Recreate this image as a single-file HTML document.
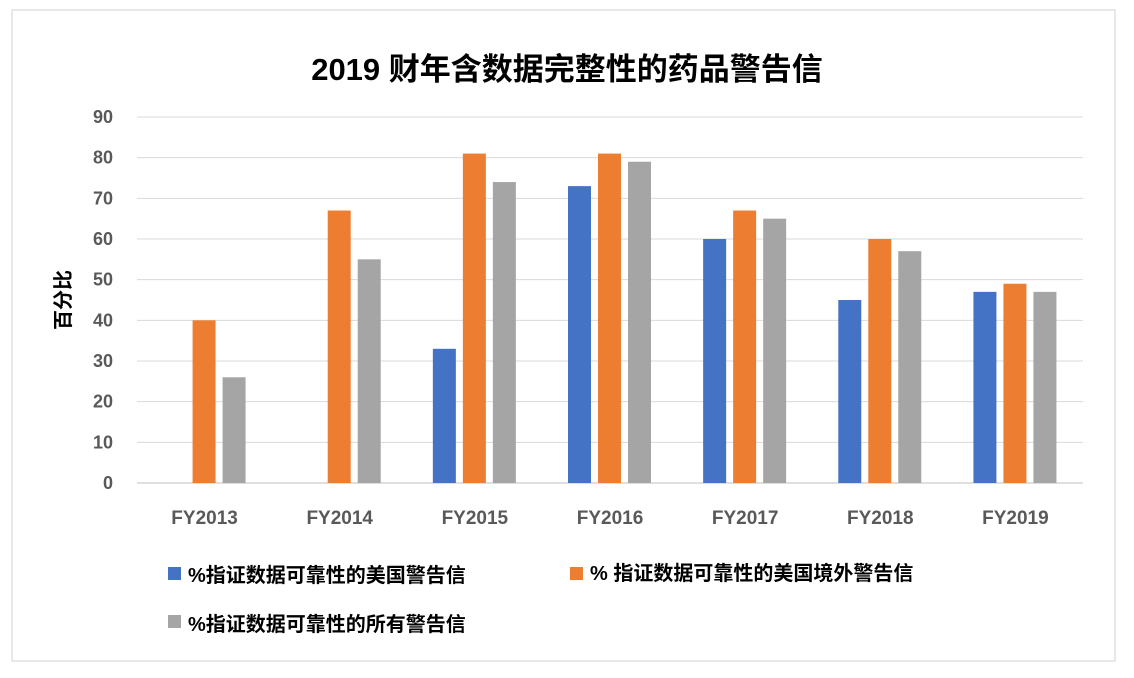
<!DOCTYPE html>
<html><head><meta charset="utf-8"><style>
body{margin:0;background:#fff;width:1134px;height:673px;overflow:hidden;font-family:"Liberation Sans","Noto Sans CJK SC",sans-serif}
</style></head><body>
<svg width="1134" height="673" xmlns="http://www.w3.org/2000/svg">
<rect x="12" y="10" width="1103" height="651" fill="#fff" stroke="#d0d0d0"/>
<text x="567" y="80" text-anchor="middle" font-size="31" font-weight="bold" font-family="Liberation Sans, Noto Sans CJK SC, sans-serif">2019 财年含数据完整性的药品警告信</text>
<text transform="translate(70,300) rotate(-90)" text-anchor="middle" font-size="20" font-weight="bold" font-family="Liberation Sans, Noto Sans CJK SC, sans-serif">百分比</text>
<g id="grid"></g><g id="bars"></g><g id="labels"></g>
<g font-size="20" font-weight="bold" font-family="Liberation Sans, Noto Sans CJK SC, sans-serif">
<rect x="168" y="567" width="13" height="13" fill="#4472C4"/>
<text x="188" y="582">%指证数据可靠性的美国警告信</text>
<rect x="570" y="567" width="13" height="13" fill="#ED7D31"/>
<text x="590" y="580">% 指证数据可靠性的美国境外警告信</text>
<rect x="168" y="615" width="13" height="13" fill="#A5A5A5"/>
<text x="188" y="631">%指证数据可靠性的所有警告信</text>
</g>
</svg>
<script>
const categories=["FY2013","FY2014","FY2015","FY2016","FY2017","FY2018","FY2019"];
const usValues=[null,null,33,73,60,45,47];
const foreignValues=[40,67,81,81,67,60,49];
const allValues=[26,55,74,79,65,57,47];
const yTicks=[0,10,20,30,40,50,60,70,80,90];
const NS="http://www.w3.org/2000/svg";
const x0=137,x1=1083,y0=483,yTop=117,yMax=90;
const band=(x1-x0)/categories.length;
const yS=v=>y0-(v/yMax)*(y0-yTop);
const xC=i=>x0+band*(i+0.5);
function mk(t,a,p){const e=document.createElementNS(NS,t);for(const k in a)e.setAttribute(k,a[k]);p.appendChild(e);return e;}
const grid=document.getElementById('grid'),bars=document.getElementById('bars'),labels=document.getElementById('labels');
yTicks.forEach(v=>{
 const l=mk('line',{x1:x0,x2:x1,y1:yS(v),y2:yS(v),stroke:v===0?'#bfbfbf':'#d9d9d9','stroke-width':1},grid);
 
 
 const t=mk('text',{x:113,y:yS(v)+6,'text-anchor':'end','font-size':18,'font-weight':'bold',fill:'#595959'},labels);
 t.textContent=v;
 
 
});
const series=[[usValues,'#4472C4',-42,'us'],[foreignValues,'#ED7D31',-12,'foreign'],[allValues,'#A5A5A5',18,'all']];
categories.forEach((c,i)=>{
 series.forEach(([arr,col,off,nm])=>{
  const v=arr[i]; if(v==null)return;
  const r=mk('rect',{x:xC(i)+off,y:yS(v),width:23,height:y0-yS(v),fill:col},bars);
  
  
 });
 const t=mk('text',{x:xC(i),y:524,'text-anchor':'middle','font-size':19,'font-weight':'bold',fill:'#595959'},labels);
 t.textContent=c;
 
 
});
</script>
</body></html>
